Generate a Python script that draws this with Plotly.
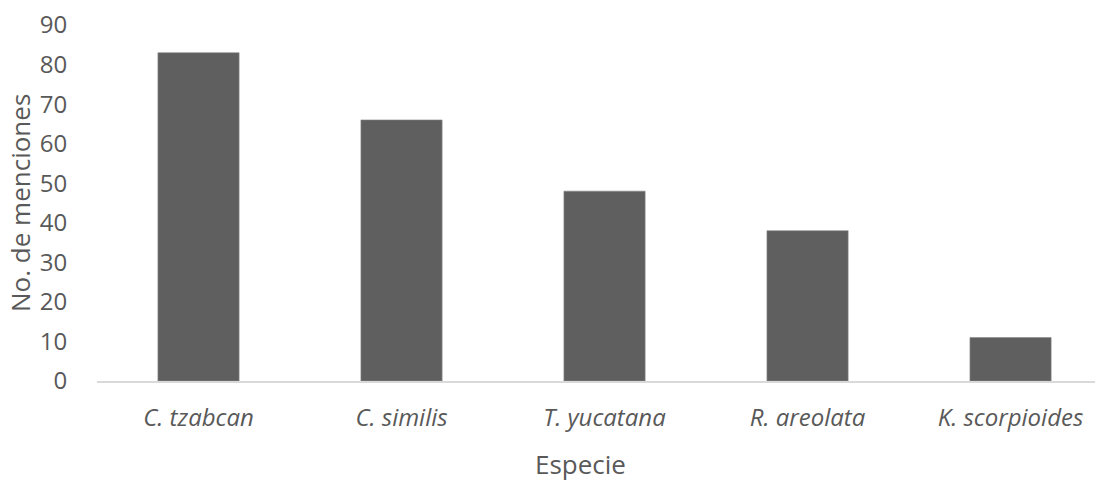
import plotly.graph_objects as go

especies = ["C. tzabcan", "C. similis", "T. yucatana", "R. areolata", "K. scorpioides"]
menciones = [83, 66, 48, 38, 11]
y_ticks = [0, 10, 20, 30, 40, 50, 60, 70, 80, 90]

font_family = "Open Sans"
text_color = "#595959"

fig = go.Figure(
    go.Bar(
        x=list(range(len(especies))),
        y=menciones,
        width=0.4,
        marker=dict(color="#5f5f5f", line=dict(color="#8a8a8a", width=0.6)),
    )
)

fig.update_layout(
    width=1095,
    height=483,
    margin=dict(l=97, r=0, t=25, b=102),
    paper_bgcolor="white",
    plot_bgcolor="white",
    showlegend=False,
    font=dict(family=font_family, color=text_color, size=24),
)

fig.update_xaxes(
    range=[-0.5, 4.416],
    tickmode="array",
    tickvals=list(range(len(especies))),
    ticktext=[f"<i>{e}</i>" for e in especies],
    tickfont=dict(size=24, color=text_color),
    showline=True,
    linecolor="#d9d9d9",
    linewidth=1.5,
    showgrid=False,
    zeroline=False,
    ticks="outside",
    ticklen=14,
    tickcolor="rgba(0,0,0,0)",
)

fig.update_yaxes(
    range=[0, 90],
    tickmode="array",
    tickvals=y_ticks,
    ticktext=[str(v) for v in y_ticks],
    tickfont=dict(size=24, color=text_color),
    showline=False,
    showgrid=False,
    zeroline=False,
    ticks="outside",
    ticklen=24,
    tickcolor="rgba(0,0,0,0)",
)

fig.add_annotation(
    text="No. de menciones",
    xref="paper", yref="paper",
    x=(20 - 97) / 998, y=0.5,
    xanchor="center", yanchor="middle",
    textangle=-90,
    showarrow=False,
    font=dict(size=26, color=text_color, family=font_family),
)

fig.add_annotation(
    text="Especie",
    xref="paper", yref="paper",
    x=(580 - 97) / 998, y=0,
    xanchor="center", yanchor="middle",
    yshift=-83,
    showarrow=False,
    font=dict(size=26, color=text_color, family=font_family),
)

fig.write_html("out.html")
